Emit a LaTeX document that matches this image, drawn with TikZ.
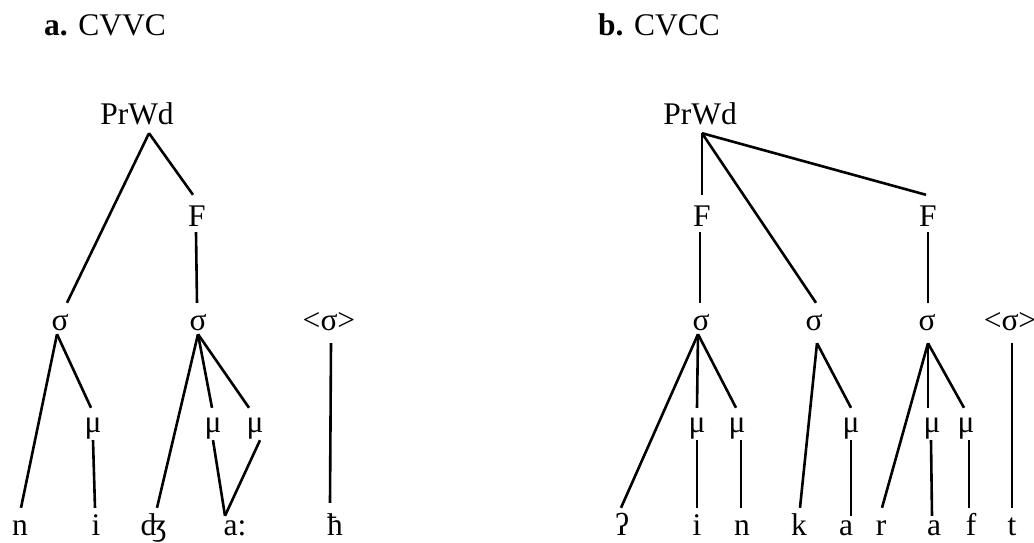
\documentclass[tikz,border=0pt]{standalone}
\usepackage{fontspec}
\setmainfont{Liberation Serif}
\begin{document}
\begin{tikzpicture}[x=1pt,y=-1pt,
  every node/.style={inner sep=0pt,anchor=base,font=\fontsize{31.5}{36}\selectfont},
  title/.style={anchor=base west},
  top/.style={text height=21pt,text depth=9pt},
  foot/.style={text height=31pt,text depth=6pt},
  syl/.style={text height=27pt,text depth=4pt},
  low/.style={text depth=13pt},
  mora/.style={text height=24pt,text depth=8pt},
  seg/.style={text height=27pt,text depth=0pt},
  short/.style={text height=19pt},
  branch/.style={line width=2.6pt,line cap=butt}]
\useasboundingbox (0,0) rectangle (1034,542);

% ---------- a. CVVC ----------
\node[title] (ta) at (44,35) {\textbf{a.} CVVC};
\node[top]  (PWa) at (137,124) {PrWd};
\node[foot] (Fa)  at (197,226) {F};
\node[syl]  (s1a) at (60,330)  {σ};
\node[syl]  (s2a) at (198,330) {σ};
\node[syl,low] (s3a) at (329,330) {<σ>};
\node[mora] (m1a) at (93,432)  {μ};
\node[mora] (m2a) at (213,432) {μ};
\node[mora] (m3a) at (255,432) {μ};
\node[seg]  (na)  at (20,535)  {n};
\node[seg]  (ia)  at (96,535)  {i};
\node[seg]  (dz)  at (154,535) {ʤ};
\node[seg,short] (aa) at (235,535) {a:};
\node[seg,text height=32pt] (hh) at (335,535) {ħ};

\draw[branch] ([xshift=12pt]PWa.south) -- ([xshift=7pt]s1a.north);
\draw[branch] ([xshift=12pt]PWa.south) -- ([xshift=-4pt]Fa.north);
\draw[branch] ([xshift=-1pt]Fa.south) -- ([xshift=-1pt]s2a.north);
\draw[branch] ([xshift=-3pt]s1a.south) -- ([xshift=1pt]na.north);
\draw[branch] ([xshift=-3pt]s1a.south) -- ([xshift=-2pt]m1a.north);
\draw[branch] (m1a.south) -- ([xshift=-1pt]ia.north);
\draw[branch] (s2a.south) -- ([xshift=3pt]dz.north);
\draw[branch] (s2a.south) -- ([xshift=-1pt]m2a.north);
\draw[branch] (s2a.south) -- ([xshift=-6pt]m3a.north);
\draw[branch] (m2a.south) -- ([xshift=-10pt]aa.north);
\draw[branch] ([xshift=5pt]m3a.south) -- ([xshift=-10pt]aa.north);
\draw[branch] ([xshift=2pt]s3a.south) -- ([xshift=-5pt]hh.north);

% ---------- b. CVCC ----------
\node[title] (tb) at (598,35) {\textbf{b.} CVCC};
\node[top]  (PWb) at (700,124) {PrWd};
\node[foot] (F1b) at (702,226) {F};
\node[foot] (F2b) at (928,226) {F};
\node[syl]  (s1b) at (701,330) {σ};
\node[syl,low] (s2b) at (814,330) {σ};
\node[syl,low] (s3b) at (927,330) {σ};
\node[syl,low] (s4b) at (1010,330) {<σ>};
\node[mora] (m1b) at (697,432) {μ};
\node[mora] (m2b) at (737,432) {μ};
\node[mora] (m3b) at (851,432) {μ};
\node[mora] (m4b) at (932,432) {μ};
\node[mora] (m5b) at (966,432) {μ};
\node[seg]  (gs)  at (622,535) {ʔ};
\node[seg]  (ib)  at (697,535) {i};
\node[seg]  (nb)  at (742,535) {n};
\node[seg]  (kb)  at (799,535) {k};
\node[seg,short] (ab1) at (846,535) {a};
\node[seg]  (rb)  at (881,535) {r};
\node[seg,short] (ab2) at (934,535) {a};
\node[seg]  (fb)  at (971,535) {f};
\node[seg]  (tb2) at (1012,535) {t};

\draw[branch] ([xshift=2pt]PWb.south) -- (F1b.north);
\draw[branch] ([xshift=2pt]PWb.south) -- ([xshift=-2pt]F2b.north);
\draw[branch] ([xshift=2pt]PWb.south) -- ([xshift=2pt]s2b.north);
\draw[branch] ([xshift=-2pt]F1b.south) -- ([xshift=-1pt]s1b.north);
\draw[branch] (F2b.south) -- ([xshift=1pt]s3b.north);
\draw[branch] ([xshift=-3pt]s1b.south) -- ([xshift=-1pt]gs.north);
\draw[branch] ([xshift=-3pt]s1b.south) -- (m1b.north);
\draw[branch] ([xshift=-3pt]s1b.south) -- ([xshift=-1pt]m2b.north);
\draw[branch] (m1b.south) -- (ib.north);
\draw[branch] ([xshift=4pt]m2b.south) -- ([xshift=-1pt]nb.north);
\draw[branch] ([xshift=3pt]s2b.south) -- ([xshift=1pt]kb.north);
\draw[branch] ([xshift=3pt]s2b.south) -- (m3b.north);
\draw[branch] (m3b.south) -- ([xshift=5pt]ab1.north);
\draw[branch] ([xshift=1pt]s3b.south) -- ([xshift=1pt]rb.north);
\draw[branch] ([xshift=1pt]s3b.south) -- ([xshift=-4pt]m4b.north);
\draw[branch] ([xshift=1pt]s3b.south) -- ([xshift=-2pt]m5b.north);
\draw[branch] ([xshift=-1pt]m4b.south) -- ([xshift=-2pt]ab2.north);
\draw[branch] ([xshift=3pt]m5b.south) -- ([xshift=-2pt]fb.north);
\draw[branch] ([xshift=2pt]s4b.south) -- (tb2.north);
\end{tikzpicture}
\end{document}
